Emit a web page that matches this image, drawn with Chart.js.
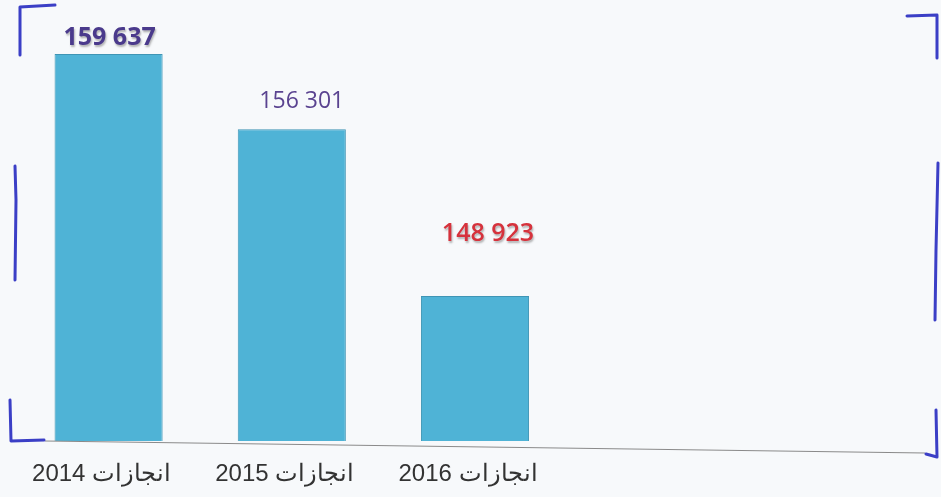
<!DOCTYPE html>
<html>
<head>
<meta charset="utf-8">
<script src="https://cdn.jsdelivr.net/npm/chart.js@4/dist/chart.umd.min.js"></script>
<style>
  html, body { margin: 0; padding: 0; background: #f7f9fb; }
  #wrap { width: 941px; height: 497px; position: relative; }
</style>
</head>
<body>
<div id="wrap"><canvas id="c" width="941" height="497"></canvas></div>
<script>
// ---- data ----
const categories = ['انجازات 2014', 'انجازات 2015', 'انجازات 2016', '', ''];
const values = [159637, 156301, 148923, null, null];
const axisMin = 142500;
const axisMax = 161140;

// ---- label styles (not data) ----
const labelStyles = [
  { color: '#4a3a8c', font: 'bold 25px "Open Sans"', dx: 1, dy: -16, shadow: true },
  { color: '#5a4390', font: '23px "Open Sans"', dx: 10, dy: -28, shadow: false },
  { color: '#d6323c', font: '600 25px "Open Sans"', dx: 13, dy: -62, shadow: true }
];

function fmt(v) { return String(v).replace(/\B(?=(\d{3})+(?!\d))/g, ' '); }

const decoPlugin = {
  id: 'deco',
  afterDatasetsDraw(chart) {
    const ctx = chart.ctx;
    const meta = chart.getDatasetMeta(0);
    // baseline
    ctx.save();
    ctx.strokeStyle = '#8a8a8a';
    ctx.lineWidth = 1.2;
    ctx.beginPath();
    ctx.moveTo(45, chart.chartArea.bottom);
    ctx.lineTo(925, chart.chartArea.bottom + 12);
    ctx.stroke();
    ctx.restore();
    // value labels
    meta.data.forEach((bar, i) => {
      const v = values[i];
      if (v == null) return;
      const st = labelStyles[i];
      ctx.save();
      ctx.font = st.font;
      ctx.textAlign = 'center';
      ctx.textBaseline = 'bottom';
      if (st.shadow) {
        ctx.shadowColor = 'rgba(120,120,120,0.55)';
        ctx.shadowOffsetX = 1;
        ctx.shadowOffsetY = 2;
        ctx.shadowBlur = 2;
      }
      ctx.fillStyle = st.color;
      ctx.fillText(fmt(v), bar.x + st.dx, bar.y + st.dy + 12);
      ctx.restore();
    });
    // hand-drawn bracket marks
    ctx.save();
    ctx.strokeStyle = '#3b3fc6';
    ctx.lineWidth = 3;
    ctx.lineCap = 'round';
    ctx.lineJoin = 'round';
    const paths = [
      [[55, 5], [20, 7], [20, 55]],
      [[15, 166], [16, 200], [15, 280]],
      [[10, 400], [11, 441], [44, 440]],
      [[907, 16], [937, 15], [937, 58]],
      [[938, 163], [936, 250], [935, 320]],
      [[936, 410], [937, 457], [926, 454]]
    ];
    paths.forEach(p => {
      ctx.beginPath();
      ctx.moveTo(p[0][0], p[0][1]);
      for (let k = 1; k < p.length; k++) ctx.lineTo(p[k][0], p[k][1]);
      ctx.stroke();
    });
    ctx.restore();
  }
};

new Chart(document.getElementById('c'), {
  type: 'bar',
  data: {
    labels: categories,
    datasets: [{
      data: values,
      backgroundColor: '#4fb3d6',
      borderColor: '#3f95b5',
      borderWidth: 1,
      categoryPercentage: 1.0,
      barPercentage: 0.59
    }]
  },
  options: {
    responsive: false,
    animation: false,
    devicePixelRatio: 1,
    layout: { padding: { left: 17, right: 8, top: 20, bottom: 0 } },
    plugins: { legend: { display: false }, tooltip: { enabled: false } },
    scales: {
      x: {
        grid: { display: false },
        border: { display: false },
        afterFit(scale) { scale.height = 56; },
        ticks: {
          color: '#333333',
          font: { family: 'Arial, "Liberation Sans"', size: 24 },
          padding: 11,
          labelOffset: -7,
          maxRotation: 0,
          autoSkip: false
        }
      },
      y: {
        display: false,
        min: axisMin,
        max: axisMax
      }
    }
  },
  plugins: [decoPlugin]
});
</script>
</body>
</html>
